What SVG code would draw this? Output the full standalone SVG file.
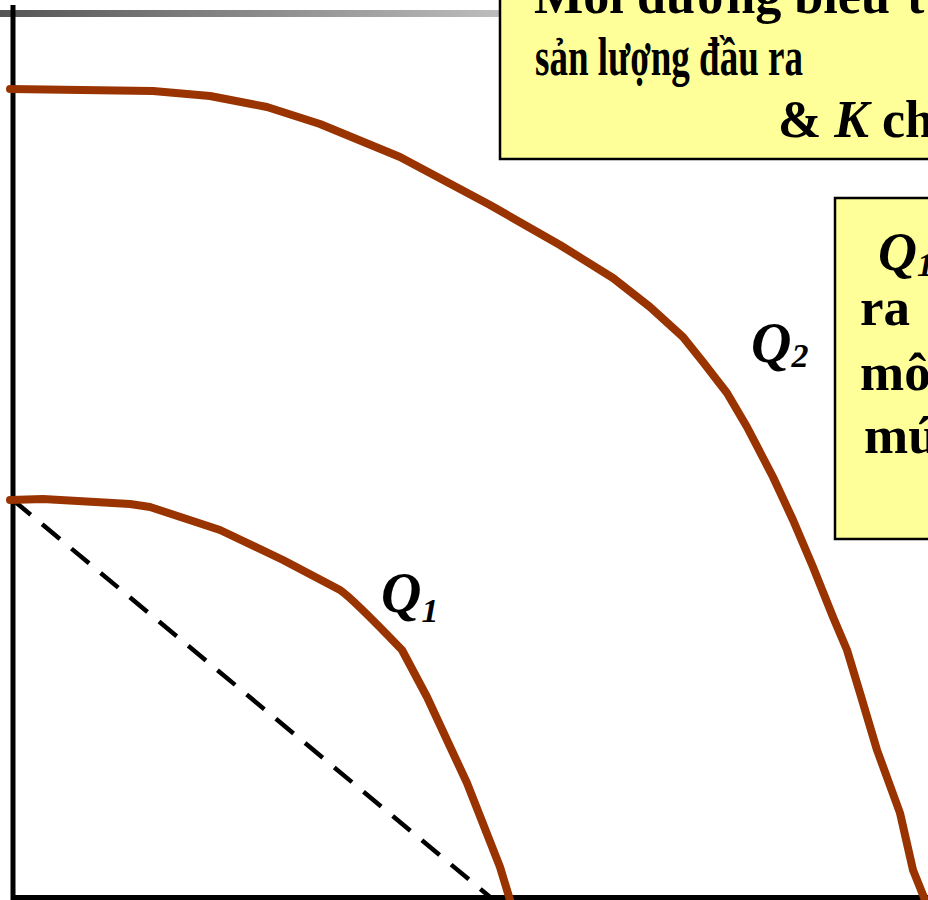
<svg xmlns="http://www.w3.org/2000/svg" width="928" height="900" viewBox="0 0 928 900">
<defs>
<linearGradient id="bar" x1="0" y1="0" x2="1" y2="0">
<stop offset="0" stop-color="#555555"/>
<stop offset="1" stop-color="#bdbdbd"/>
</linearGradient>
</defs>
<style>
.box{fill:#FFFF99;stroke:#000;stroke-width:2.5}
.txt{font-family:"Liberation Serif","Times New Roman",serif;font-weight:bold;fill:#000}
.curve{fill:none;stroke:#993300;stroke-width:8;stroke-linecap:round;stroke-linejoin:round}
.axis{stroke:#000;stroke-width:5;fill:none}
.dash{stroke:#000;stroke-width:4.5;stroke-dasharray:23 15;fill:none}
.q{font-family:"Liberation Serif","Times New Roman",serif;font-style:italic;font-weight:bold;fill:#000}
</style>
<rect width="928" height="900" fill="#fff"/>
<rect x="0" y="10" width="500" height="7" fill="url(#bar)"/>
<g id="axes">
<line class="axis" x1="13" y1="5" x2="13" y2="900"/>
<line class="axis" x1="11" y1="897.5" x2="928" y2="897.5"/>
</g>
<g id="connectors">
<line class="dash" x1="13" y1="500" x2="490" y2="897"/>
</g>
<g id="curve-q1">
<path class="curve" d="M10,500 L43,499 L130,504 L150,507 L220,530 L283,560 L340,590 Q352,598 402,650 L427,697 L453,753 L467,783 L500,867 L510,900"/>
<text class="q" x="381" y="612" font-size="56">Q<tspan font-size="34" dy="10">1</tspan></text>
</g>
<g id="curve-q2">
<path class="curve" d="M10,89 L153,91 L210,96 L267,107 L320,124 L400,157 L490,205 L560,245 L613,278 L650,307 L683,337 L703,362 L727,393 L747,427 L773,477 L793,520 L813,567 L833,617 L847,650 L860,693 L877,750 L900,813 L913,870 L925,900"/>
<text class="q" x="751" y="362" font-size="56">Q<tspan font-size="34" dy="5">2</tspan></text>
</g>
<g id="note-top">
<rect class="box" x="500" y="-20" width="460" height="179"/>
<text class="txt" font-size="52" x="534" y="13" textLength="356" lengthAdjust="spacingAndGlyphs">Mỗi đường biểu</text>
<text class="txt" font-size="52" x="907" y="13">t</text>
<text class="txt" font-size="54" x="535" y="75" textLength="268" lengthAdjust="spacingAndGlyphs">sản lượng đầu ra</text>
<text class="txt" font-size="52" x="778" y="137">&amp; <tspan font-style="italic">K</tspan> ch</text>
</g>
<g id="note-right">
<rect class="box" x="835" y="198" width="120" height="341"/>
<text class="q" x="878" y="270" font-size="54">Q<tspan font-size="34" dy="6">1</tspan></text>
<text class="txt" font-size="53" x="860" y="325">ra</text>
<text class="txt" font-size="53" x="860" y="390">mô</text>
<text class="txt" font-size="53" x="864" y="453">mú</text>
</g>
</svg>
